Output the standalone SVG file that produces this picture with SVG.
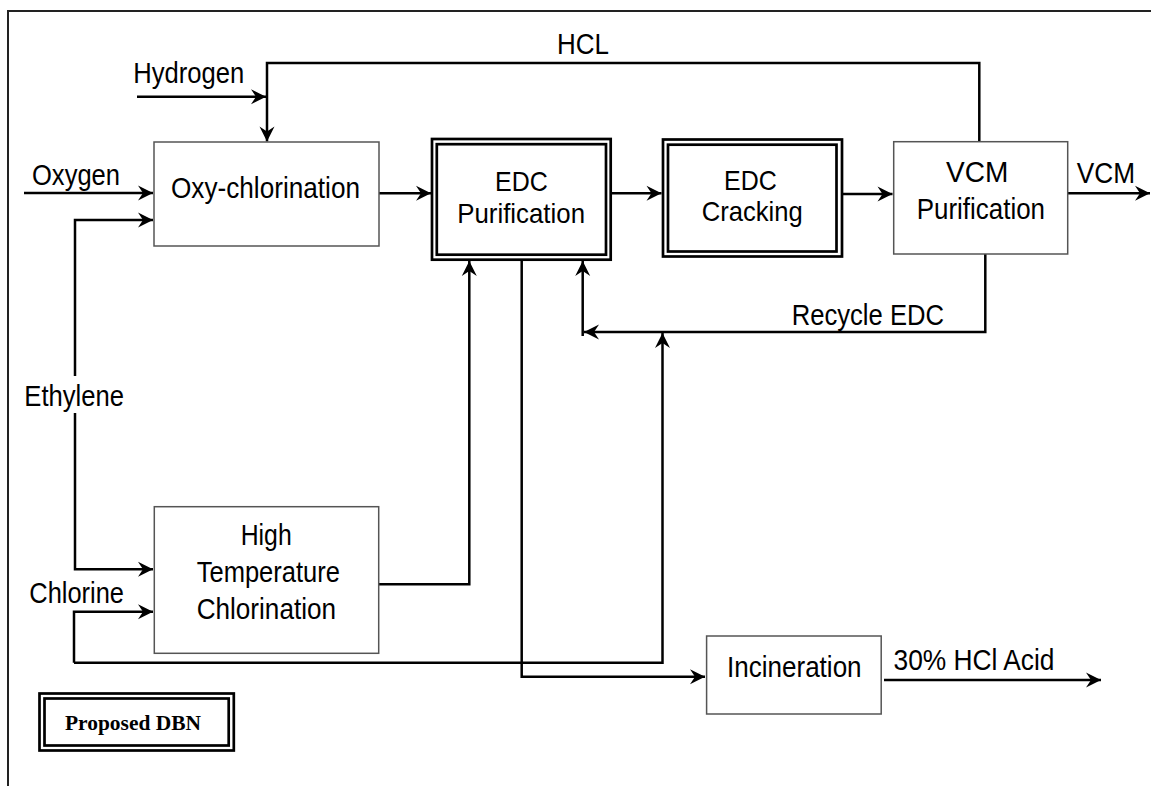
<svg xmlns="http://www.w3.org/2000/svg" width="1151" height="786" viewBox="0 0 1151 786">
  <defs>
    <marker id="ah" viewBox="-16 -8 17 16" refX="0" refY="0" markerWidth="17" markerHeight="16" markerUnits="userSpaceOnUse" orient="auto">
      <path d="M0,0 L-15,-7.5 L-10,0 L-15,7.5 Z" fill="#000"/>
    </marker>
    <style>
      .lbl { font-family: "Liberation Sans", Arial, sans-serif; font-size: 30px; fill: #000; }
      .lbl-s { font-family: "Liberation Sans", Arial, sans-serif; font-size: 28px; fill: #000; }
      .box { fill: #fff; stroke: #555; stroke-width: 1.5; }
      .dbl { fill: none; stroke: #000; stroke-width: 2.7; }
      .flow-a { fill: none; stroke: #000; stroke-width: 2.5; marker-end: url(#ah); }
      .frame { fill: none; stroke: #222; stroke-width: 2; }
    </style>
  </defs>

  <rect width="1151" height="786" fill="#fff"/>

  <!-- outer frame -->
  <path class="frame" d="M8,786 V11 H1151"/>

  <!-- connectors -->
  <g id="connectors">
    <path class="flow-a" d="M137,96.7 H266"/>
    <path class="flow-a" d="M979.3,141.7 V63 H267 V141.5"/>
    <path class="flow-a" d="M24,193 H153"/>
    <path class="flow-a" d="M75,376 V220 H153"/>
    <path class="flow-a" d="M75,413 V569.3 H153"/>
    <path class="flow-a" d="M74,662.7 V611.7 H153"/>
    <path class="flow-a" d="M74,662.7 H662.5 V333"/>
    <path class="flow-a" d="M379,193.3 H431"/>
    <path class="flow-a" d="M611,193.3 H661.5"/>
    <path class="flow-a" d="M843,194 H892.5"/>
    <path class="flow-a" d="M1068,193.3 H1150"/>
    <path class="flow-a" d="M985.3,254 V332 H584"/>
    <path class="flow-a" d="M582.7,336 V261"/>
    <path class="flow-a" d="M379,584.3 H469.3 V261"/>
    <path class="flow-a" d="M521.7,261 V676.7 H705"/>
    <path class="flow-a" d="M884,680 H1101"/>
  </g>

  <!-- stream labels -->
  <g id="labels">
    <text class="lbl" x="133.3" y="83.3" textLength="111" lengthAdjust="spacingAndGlyphs">Hydrogen</text>
    <text class="lbl" x="557" y="54" textLength="52" lengthAdjust="spacingAndGlyphs">HCL</text>
    <text class="lbl" x="32" y="185" textLength="88" lengthAdjust="spacingAndGlyphs">Oxygen</text>
    <text class="lbl" x="24.3" y="406" textLength="99.7" lengthAdjust="spacingAndGlyphs">Ethylene</text>
    <text class="lbl" x="29.3" y="603.3" textLength="94.7" lengthAdjust="spacingAndGlyphs">Chlorine</text>
    <text class="lbl" x="1076.7" y="183.3" textLength="58.3" lengthAdjust="spacingAndGlyphs">VCM</text>
    <text class="lbl" x="791.7" y="325" textLength="152.3" lengthAdjust="spacingAndGlyphs">Recycle EDC</text>
    <text class="lbl" x="893.5" y="670" textLength="161" lengthAdjust="spacingAndGlyphs">30% HCl Acid</text>
  </g>

  <g id="oxy-chlorination">
    <rect class="box" x="154" y="142" width="225" height="104"/>
    <text class="lbl" x="171" y="198" textLength="189" lengthAdjust="spacingAndGlyphs">Oxy-chlorination</text>
  </g>

  <g id="edc-purification">
    <rect x="432" y="139" width="178.7" height="120.7" fill="#fff" class="dbl"/>
    <rect class="dbl" x="436.8" y="144.2" width="169.2" height="110.5"/>
    <text class="lbl-s" x="495" y="191" textLength="52.7" lengthAdjust="spacingAndGlyphs">EDC</text>
    <text class="lbl-s" x="457.3" y="222.5" textLength="127.7" lengthAdjust="spacingAndGlyphs">Purification</text>
  </g>

  <g id="edc-cracking">
    <rect x="663" y="139.5" width="179" height="117" fill="#fff" class="dbl"/>
    <rect class="dbl" x="668" y="144.7" width="168.5" height="106.8"/>
    <text class="lbl-s" x="724" y="190" textLength="52.7" lengthAdjust="spacingAndGlyphs">EDC</text>
    <text class="lbl-s" x="701.7" y="221" textLength="101" lengthAdjust="spacingAndGlyphs">Cracking</text>
  </g>

  <g id="vcm-purification">
    <rect class="box" x="893.7" y="141.7" width="174" height="112.3"/>
    <text class="lbl" x="946" y="182" textLength="62.3" lengthAdjust="spacingAndGlyphs">VCM</text>
    <text class="lbl" x="916.7" y="218.5" textLength="128.3" lengthAdjust="spacingAndGlyphs">Purification</text>
  </g>

  <g id="high-temperature-chlorination">
    <rect class="box" x="154.3" y="506.7" width="224.4" height="146.6"/>
    <text class="lbl" x="240.7" y="545" textLength="51" lengthAdjust="spacingAndGlyphs">High</text>
    <text class="lbl" x="196.7" y="581.7" textLength="143.3" lengthAdjust="spacingAndGlyphs">Temperature</text>
    <text class="lbl" x="196.7" y="619.3" textLength="139.3" lengthAdjust="spacingAndGlyphs">Chlorination</text>
  </g>

  <g id="incineration">
    <rect class="box" x="706.6" y="636" width="174.6" height="78"/>
    <text class="lbl" x="727" y="677" textLength="134.6" lengthAdjust="spacingAndGlyphs">Incineration</text>
  </g>

  <g id="legend">
    <rect class="dbl" x="39.5" y="693.5" width="194.3" height="57" stroke-width="2.3"/>
    <rect class="dbl" x="44.5" y="698.5" width="184.2" height="47" stroke-width="2.3"/>
    <text x="65" y="730" textLength="136" lengthAdjust="spacingAndGlyphs" font-family="'Liberation Serif', 'Times New Roman', serif" font-weight="bold" font-size="20">Proposed DBN</text>
  </g>
</svg>
